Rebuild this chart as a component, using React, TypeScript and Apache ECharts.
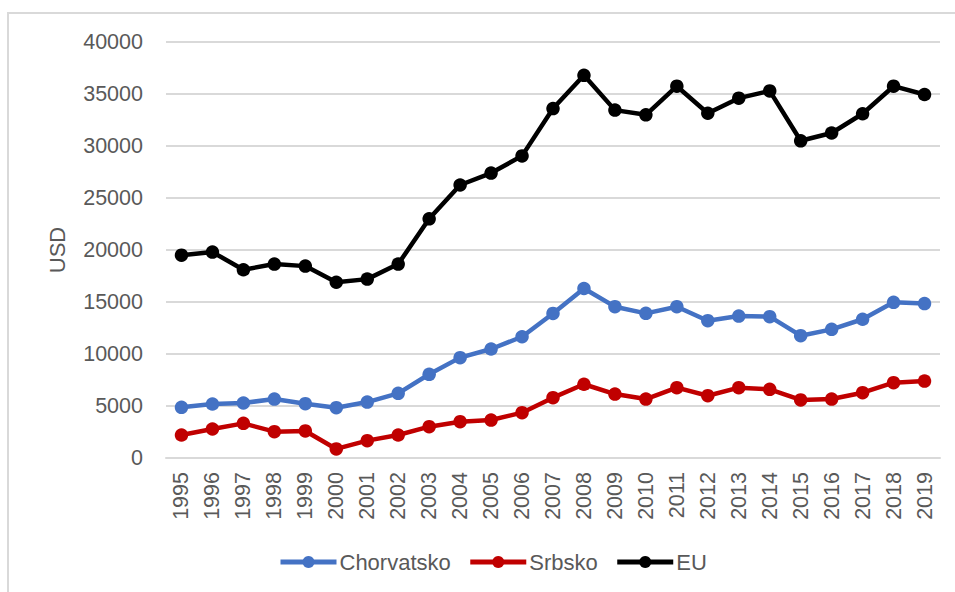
import React, { useEffect, useRef } from "react";
import * as echarts from "echarts";

const years = ["1995","1996","1997","1998","1999","2000","2001","2002","2003","2004","2005","2006","2007","2008","2009","2010","2011","2012","2013","2014","2015","2016","2017","2018","2019"];
const chorvatsko = [4870,5190,5290,5670,5220,4840,5380,6220,8050,9650,10480,11660,13900,16300,14550,13910,14550,13200,13650,13590,11760,12370,13340,14970,14850];
const srbsko = [2210,2790,3330,2530,2600,870,1670,2210,3010,3490,3650,4360,5800,7090,6150,5670,6760,5990,6760,6600,5580,5670,6280,7240,7400];
const eu = [19500,19800,18100,18650,18450,16900,17200,18650,23000,26250,27400,29050,33600,36800,33450,33000,35750,33150,34600,35300,30500,31250,33100,35750,34950];
const yTicks = { min: 0, max: 40000, interval: 5000 };

const FONT = "Liberation Sans";
const TXT = "#595959";

export default function App() {
  const ref = useRef<HTMLDivElement>(null);
  useEffect(() => {
    if (!ref.current) return;
    const chart = echarts.init(ref.current, null, { renderer: "svg" });
    const mk = (name: string, data: number[], color: string) => ({
      name,
      type: "line",
      data,
      symbol: "circle",
      symbolSize: 13.5,
      lineStyle: { width: 4.5, color },
      itemStyle: { color },
      emphasis: { disabled: true },
    });
    chart.setOption({
      animation: false,
      backgroundColor: "#ffffff",
      textStyle: { fontFamily: FONT },
      graphic: [
        {
          type: "rect",
          shape: { x: 8, y: 13, width: 970, height: 600 },
          style: { fill: "none", stroke: "#d9d9d9", lineWidth: 2 },
          silent: true,
          z: -1,
        },
      ],
      grid: { left: 166, right: 15, top: 42, bottom: 134 },
      legend: {
        data: ["Chorvatsko", "Srbsko", "EU"],
        left: 278,
        top: 551,
        padding: 0,
        itemWidth: 56,
        itemHeight: 15,
        itemGap: 17,
        lineStyle: { width: 5 },
        textStyle: { fontSize: 22, color: TXT, fontFamily: FONT, padding: [0, 0, 0, -2] },
      },
      xAxis: {
        type: "category",
        data: years,
        boundaryGap: true,
        axisLine: { show: true, lineStyle: { color: "#d9d9d9", width: 2 } },
        axisTick: { show: false },
        axisLabel: { rotate: 90, fontSize: 21.5, color: TXT, margin: 14, interval: 0, fontFamily: FONT },
      },
      yAxis: {
        type: "value",
        min: yTicks.min,
        max: yTicks.max,
        interval: yTicks.interval,
        name: "USD",
        nameLocation: "middle",
        nameRotate: 90,
        nameGap: 98,
        nameTextStyle: { fontSize: 22, color: TXT, fontFamily: FONT },
        axisLine: { show: false },
        axisTick: { show: false },
        axisLabel: {
          fontSize: 21.5,
          color: TXT,
          margin: 23,
          fontFamily: FONT,
          formatter: (v: number) => String(v),
        },
        splitLine: { lineStyle: { color: "#d9d9d9", width: 2 } },
      },
      series: [
        mk("Chorvatsko", chorvatsko, "#4472C4"),
        mk("Srbsko", srbsko, "#C00000"),
        mk("EU", eu, "#000000"),
      ],
    });
    return () => chart.dispose();
  }, []);
  return (
    <div
      ref={ref}
      style={{ position: "fixed", left: 0, top: 0, width: 955, height: 592, background: "#fff" }}
    />
  );
}
